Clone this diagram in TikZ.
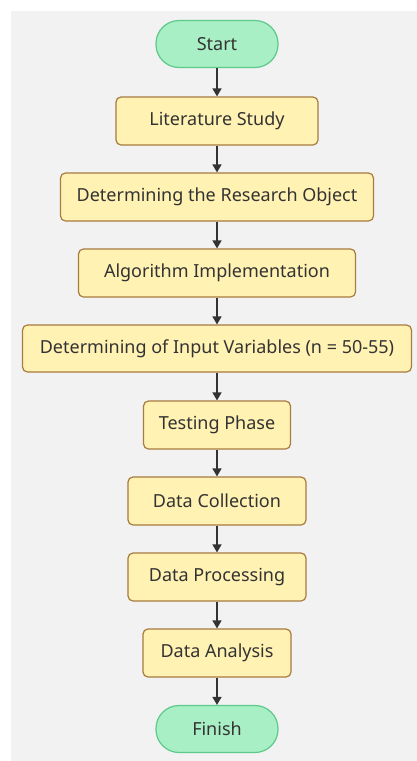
\documentclass[tikz,border=0pt]{standalone}
\usepackage{fontspec}
\setmainfont{Noto Sans}
\usepackage{tikz}
\usetikzlibrary{arrows.meta}

\definecolor{fond}{HTML}{F2F2F2}
\definecolor{boite}{HTML}{FFF2B3}
\definecolor{bordboite}{HTML}{A87B3F}
\definecolor{borne}{HTML}{A9EFC5}
\definecolor{bordborne}{HTML}{5DC98A}
\definecolor{encre}{HTML}{333333}

\tikzset{
  etape/.style={draw=bordboite, fill=boite, line width=1.2pt, rounded corners=5pt,
    minimum height=48pt, inner sep=0pt, text=encre, font=\fontsize{18}{21}\selectfont},
  terminal/.style={draw=bordborne, fill=borne, line width=1.2pt, rounded corners=23pt,
    minimum height=47pt, minimum width=122pt, inner sep=0pt, text=encre,
    font=\fontsize{18}{21}\selectfont},
  fleche/.style={draw=encre, line width=1.5pt, -{Triangle[length=8pt,width=9pt]}}
}

\begin{document}
\begin{tikzpicture}[x=1pt, y=-1pt]
% Cadre et fond gris
\useasboundingbox (0,0) rectangle (417,761);
\fill[fond] (11,11) rectangle (417,761);
% Debut et fin
\node[terminal] (debut) at (217,44) {Start};
\node[terminal] (fin) at (217,729) {Finish};
% Etapes
\node[etape, minimum width=202pt] (litterature) at (217,121) {Literature Study};
\node[etape, minimum width=313pt] (objet) at (217,197) {Determining the Research Object};
\node[etape, minimum width=277pt] (algo) at (217,273) {Algorithm Implementation};
\node[etape, minimum width=389pt, minimum height=47pt] (variables) at (217,348.5) {Determining of Input Variables (n = 50-55)};
\node[etape, minimum width=147pt] (test) at (217,425) {Testing Phase};
\node[etape, minimum width=178pt] (collecte) at (217,501) {Data Collection};
\node[etape, minimum width=178pt] (traitement) at (217,577) {Data Processing};
\node[etape, minimum width=148pt] (analyse) at (217,653) {Data Analysis};
% Fleches
\foreach \a/\b in {debut/litterature, litterature/objet, objet/algo, algo/variables,
  variables/test, test/collecte, collecte/traitement, traitement/analyse, analyse/fin}
  \draw[fleche] (\a) -- (\b);
\end{tikzpicture}
\end{document}
